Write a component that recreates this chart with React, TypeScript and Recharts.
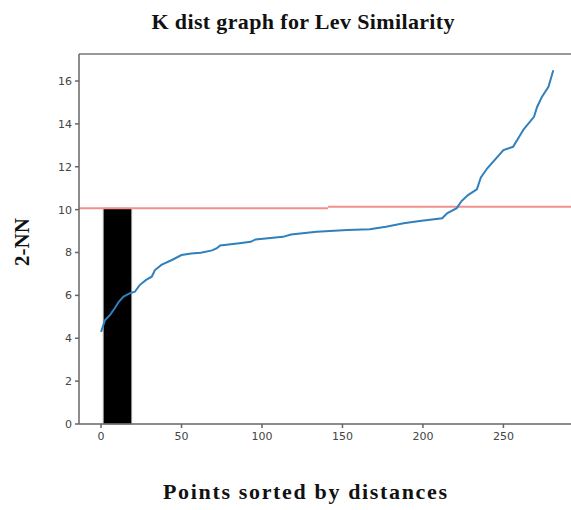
import React from "react";
import {
  LineChart,
  Line,
  XAxis,
  YAxis,
  ReferenceLine,
  ReferenceArea,
} from "recharts";

const pointIndex = [
  0, 2.5, 5.5, 8.5, 11, 14, 18, 21, 24, 28, 31.5, 33.5, 37.5, 44, 50, 56, 62,
  69, 72, 74, 86, 93, 96, 113, 118, 134, 153, 167, 177, 188, 198, 212, 215, 221,
  224, 228, 233.5, 236, 240, 250, 256, 262.6, 269, 271, 274, 278, 281,
];
const kDist = [
  4.3, 4.85, 5.08, 5.4, 5.7, 5.94, 6.1, 6.17, 6.48, 6.72, 6.87, 7.18, 7.42,
  7.65, 7.88, 7.95, 7.99, 8.1, 8.2, 8.33, 8.43, 8.5, 8.61, 8.73, 8.84, 8.97,
  9.05, 9.08, 9.2, 9.36, 9.47, 9.6, 9.83, 10.07, 10.4, 10.68, 10.95, 11.5,
  11.93, 12.78, 12.93, 13.75, 14.33, 14.8, 15.27, 15.73, 16.5,
];
const xTicks = [0, 50, 100, 150, 200, 250];
const yTicks = [0, 2, 4, 6, 8, 10, 12, 14, 16];
const thresholdLeft = 10.06;
const thresholdRight = 10.14;
const thresholdStep = 141;
const boxStart = 1.4;
const boxEnd = 19;

const xMin = -13.7;
const xMax = 292;
const yMax = 17.26;

const data = pointIndex.map((x, i) => ({ x, y: kDist[i] }));

const tickStyle = { fontFamily: "DejaVu Sans", fontSize: 11, fill: "#444" };
const labelStyle = {
  fontFamily: "Liberation Serif",
  fontWeight: 700,
  fontSize: 22,
  fill: "#111",
};

export default function App() {
  return (
    <div style={{ position: "absolute", left: 0, top: 0, background: "#fff" }}>
      <LineChart
        width={571}
        height={510}
        data={data}
        margin={{ top: 54, right: 0, bottom: 56, left: 39 }}
      >
        <text
          x={303}
          y={29}
          textAnchor="middle"
          textLength={303}
          lengthAdjust="spacing"
          style={labelStyle}
        >
          K dist graph for Lev Similarity
        </text>
        <text
          x={305}
          y={499}
          textAnchor="middle"
          textLength={284}
          lengthAdjust="spacing"
          style={labelStyle}
        >
          Points sorted by distances
        </text>
        <text
          x={29}
          y={242}
          textAnchor="middle"
          transform="rotate(-90 29 242)"
          style={{ ...labelStyle, fontSize: 21 }}
        >
          2-NN
        </text>
        <XAxis
          dataKey="x"
          type="number"
          domain={[xMin, xMax]}
          ticks={xTicks}
          allowDataOverflow
          height={30}
          tick={tickStyle}
          tickSize={4}
          stroke="#666"
          strokeWidth={1.5}
          tickMargin={4}
        />
        <YAxis
          type="number"
          domain={[0, yMax]}
          ticks={yTicks}
          allowDataOverflow
          width={40}
          tick={tickStyle}
          tickSize={4}
          stroke="#666"
          strokeWidth={1.5}
          tickMargin={3}
        />
        <ReferenceLine y={yMax} stroke="#777" strokeWidth={1.5} />
        <ReferenceArea
          x1={boxStart}
          x2={boxEnd}
          y1={0}
          y2={thresholdLeft}
          fill="#000"
          fillOpacity={1}
          stroke="#999"
          strokeWidth={1}
        />
        <ReferenceLine
          segment={[
            { x: xMin, y: thresholdLeft },
            { x: thresholdStep, y: thresholdLeft },
          ]}
          stroke="#f29090"
          strokeWidth={2}
        />
        <ReferenceLine
          segment={[
            { x: thresholdStep, y: thresholdRight },
            { x: xMax, y: thresholdRight },
          ]}
          stroke="#f29090"
          strokeWidth={2}
        />
        <Line
          type="linear"
          dataKey="y"
          stroke="#3080bd"
          strokeWidth={2}
          dot={false}
          isAnimationActive={false}
        />
      </LineChart>
    </div>
  );
}
